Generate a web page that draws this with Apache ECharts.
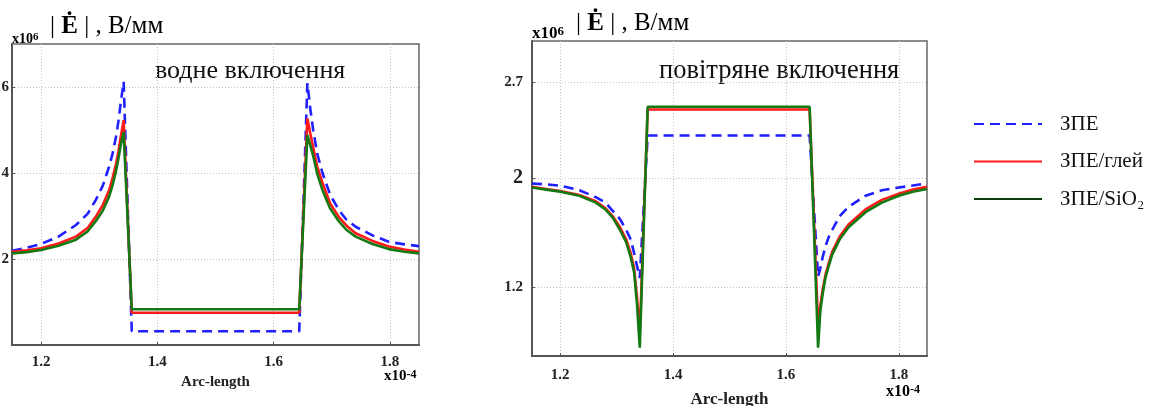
<!DOCTYPE html>
<html>
<head>
<meta charset="utf-8">
<script src="https://cdn.jsdelivr.net/npm/echarts@6/dist/echarts.min.js"></script>
<style>
  body { margin: 0; background: #fff; }
  #chart { width: 1171px; height: 406px; }
</style>
</head>
<body>
<div id="chart"></div>
<script>
// x in units of 1e-4, y in units of 1e6 V/mm
var seriesNames = ['ЗПЕ', 'ЗПЕ/глей', 'ЗПЕ/SiO₂'];
var xTicks = [1.2, 1.4, 1.6, 1.8];

// water inclusion (left)
var waterX    = [1.15, 1.175, 1.2, 1.23, 1.26, 1.28, 1.294, 1.306, 1.317, 1.323, 1.329, 1.333, 1.337, 1.342, 1.356,
                 1.644, 1.658, 1.663, 1.668, 1.675, 1.684, 1.697, 1.712, 1.725, 1.741, 1.77, 1.798, 1.825, 1.85];
var waterZPE  = [2.19, 2.26, 2.35, 2.52, 2.79, 3.05, 3.37, 3.7, 4.15, 4.45, 4.85, 5.2, 5.63, 6.12, 0.32,
                 0.32, 6.09, 5.5, 5.0, 4.45, 4.0, 3.5, 3.14, 2.92, 2.75, 2.55, 2.4, 2.34, 2.3];
var waterGlei = [2.17, 2.2, 2.25, 2.36, 2.52, 2.72, 2.98, 3.25, 3.6, 3.88, 4.22, 4.5, 4.84, 5.23, 0.75,
                 0.75, 5.27, 4.92, 4.6, 4.15, 3.77, 3.3, 2.98, 2.78, 2.6, 2.42, 2.29, 2.22, 2.17];
var waterSiO2 = [2.13, 2.16, 2.21, 2.31, 2.45, 2.64, 2.88, 3.12, 3.45, 3.72, 4.05, 4.33, 4.65, 4.95, 0.83,
                 0.83, 4.88, 4.65, 4.4, 3.98, 3.6, 3.18, 2.88, 2.68, 2.52, 2.35, 2.23, 2.17, 2.13];
var waterYTicks = [2, 4, 6];

// air inclusion (right)
var airX    = [1.15, 1.175, 1.2, 1.234, 1.263, 1.28, 1.293, 1.306, 1.317, 1.325, 1.331, 1.336, 1.341, 1.355,
               1.642, 1.657, 1.661, 1.665, 1.67, 1.676, 1.682, 1.695, 1.711, 1.741, 1.77, 1.8, 1.825, 1.85];
var airZPE  = [1.96, 1.953, 1.944, 1.91, 1.86, 1.82, 1.76, 1.70, 1.62, 1.55, 1.45, 1.36, 1.27, 2.31,
               2.31, 1.28, 1.34, 1.42, 1.5, 1.57, 1.62, 1.72, 1.79, 1.87, 1.91, 1.93, 1.945, 1.96];
var airGlei = [1.935, 1.92, 1.905, 1.875, 1.83, 1.78, 1.72, 1.64, 1.55, 1.45, 1.34, 1.13, 0.87, 2.50,
               2.50, 0.92, 1.07, 1.18, 1.29, 1.38, 1.46, 1.57, 1.66, 1.77, 1.84, 1.885, 1.915, 1.935];
var airSiO2 = [1.93, 1.915, 1.9, 1.87, 1.82, 1.77, 1.71, 1.62, 1.53, 1.42, 1.31, 1.08, 0.76, 2.52,
               2.52, 0.76, 1.03, 1.15, 1.27, 1.36, 1.44, 1.55, 1.64, 1.75, 1.82, 1.87, 1.90, 1.92];
var airYTicks = [1.2, 2, 2.7];

function pairs(xs, ys) {
  return xs.map(function (x, i) { return [x, ys[i]]; });
}

var serif = 'Liberation Serif';
var colors = ['#1f1fff', '#ff1a1a', '#137a13'];
var styles = [
  { color: colors[0], width: 2.6, type: [10, 6] },
  { color: colors[1], width: 2.6, type: 'solid' },
  { color: colors[2], width: 2.6, type: 'solid' }
];

function xAxisFor(gridIndex, gap, labelMargin, nameSize) {
  return {
    gridIndex: gridIndex, type: 'value', min: 1.15, max: 1.85,
    name: 'Arc-length', nameLocation: 'middle', nameGap: gap,
    nameTextStyle: { fontFamily: serif, fontSize: nameSize, fontWeight: 'bold', color: '#222' },
    axisLine: { show: true, lineStyle: { color: '#555', width: 2 } },
    axisTick: { show: true, inside: true, length: 3, customValues: xTicks, lineStyle: { color: '#555' } },
    axisLabel: { customValues: xTicks, margin: labelMargin, fontFamily: serif, fontSize: 15, fontWeight: 'bold', color: '#222' },
    splitLine: { show: true, lineStyle: { color: '#c4c4c4', type: [1, 2], width: 1 } }
  };
}

function yAxisFor(gridIndex, min, max, ticks, margin) {
  return {
    gridIndex: gridIndex, type: 'value', min: min, max: max,
    axisLine: { show: true, lineStyle: { color: '#555', width: 2 } },
    axisTick: { show: true, inside: true, length: 3, customValues: ticks, lineStyle: { color: '#555' } },
    axisLabel: {
      customValues: ticks, margin: margin, fontFamily: serif, fontSize: 15, fontWeight: 'bold', color: '#222',
      formatter: function (v) { return v === 2 && gridIndex === 1 ? '{big|2}' : String(v); },
      rich: { big: { fontFamily: serif, fontSize: 20, color: '#222' } }
    },
    splitLine: { show: true, lineStyle: { color: '#c4c4c4', type: [1, 2], width: 1 } }
  };
}

function lineSeries(i, gridIdx, xs, ys) {
  return {
    name: seriesNames[i], type: 'line', xAxisIndex: gridIdx, yAxisIndex: gridIdx,
    data: pairs(xs, ys), symbol: 'none', showSymbol: false,
    lineStyle: styles[i], itemStyle: { color: colors[i] }, z: 2 + i
  };
}

var unitRich = {
  n: { fontFamily: serif, fontSize: 25, color: '#111' },
  b: { fontFamily: serif, fontSize: 25, fontWeight: 'bold', color: '#111' }
};
function expRich(size, supSize) {
  return {
    a: { fontFamily: serif, fontSize: size, fontWeight: 'bold', color: '#222', verticalAlign: 'bottom' },
    s: { fontFamily: serif, fontSize: supSize, fontWeight: 'bold', color: '#222', verticalAlign: 'top' }
  };
}

var myChart = echarts.init(document.getElementById('chart'));
var option = {
  animation: false,
  backgroundColor: '#fff',
  grid: [
    { left: 12, top: 44, width: 407, height: 301, show: true, borderColor: '#666', borderWidth: 1.5, outerBoundsMode: 'none', containLabel: false },
    { left: 532, top: 41, width: 395, height: 315, show: true, borderColor: '#666', borderWidth: 1.5, outerBoundsMode: 'none', containLabel: false }
  ],
  xAxis: [xAxisFor(0, 30, 10, 15), xAxisFor(1, 35, 12, 17)],
  yAxis: [yAxisFor(0, 0, 7, waterYTicks, 3), yAxisFor(1, 0.7, 3.0, airYTicks, 9)],
  legend: {
    orient: 'vertical', left: 968, top: 107,
    itemWidth: 68, itemHeight: 24, itemGap: 13.5,
    itemStyle: { opacity: 0 },
    textStyle: { fontFamily: serif, fontSize: 21, color: '#111', lineHeight: 24, padding: [0, 0, 0, 13] },
    data: [
      { name: seriesNames[0] },
      { name: seriesNames[1] },
      { name: seriesNames[2], lineStyle: { color: '#0a3d0a' } }
    ]
  },
  graphic: [
    { type: 'text', left: 12, top: 32, style: { text: '{a|x10}{s|6}', rich: expRich(14, 11) } },
    { type: 'text', left: 50, top: 14, style: { text: '{n|| }{b|Ė}{n| | , В/мм}', rich: unitRich } },
    { type: 'text', left: 532, top: 25, style: { text: '{a|x10}{s|6}', rich: expRich(17, 13) } },
    { type: 'text', left: 576, top: 11, style: { text: '{n|| }{b|Ė}{n| | , В/мм}', rich: unitRich } },
    { type: 'text', left: 155, top: 58, style: { text: 'водне включення', font: '26px "Liberation Serif"', fill: '#111' } },
    { type: 'text', left: 659, top: 58, style: { text: 'повітряне включення', font: '26.5px "Liberation Serif"', fill: '#111' } },
    { type: 'text', left: 384, top: 369, style: { text: '{a|x10}{s|-4}', rich: expRich(15, 12) } },
    { type: 'text', left: 886, top: 384, style: { text: '{a|x10}{s|-4}', rich: expRich(16, 12) } }
  ],
  series: [
    lineSeries(0, 0, waterX, waterZPE),
    lineSeries(1, 0, waterX, waterGlei),
    lineSeries(2, 0, waterX, waterSiO2),
    lineSeries(0, 1, airX, airZPE),
    lineSeries(1, 1, airX, airGlei),
    lineSeries(2, 1, airX, airSiO2)
  ]
};
myChart.setOption(option);
</script>
</body>
</html>
